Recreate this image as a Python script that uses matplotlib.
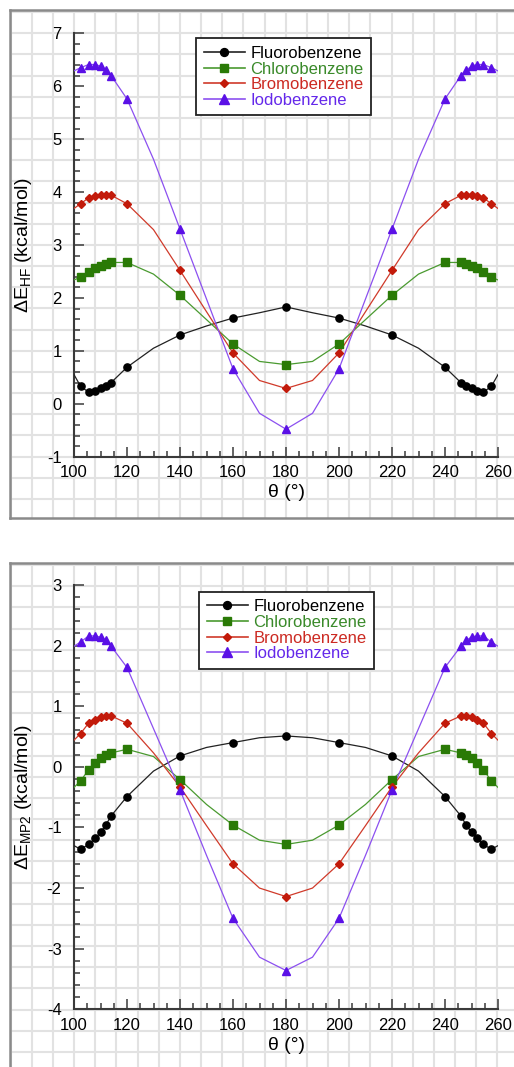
import numpy as np
import matplotlib
matplotlib.use('Agg')
import matplotlib.pyplot as plt

plt.rcParams['font.family'] = ['Liberation Sans', 'DejaVu Sans']
plt.rcParams['mathtext.fontset'] = 'custom'
plt.rcParams['mathtext.rm'] = 'Liberation Sans'
plt.rcParams['mathtext.it'] = 'Liberation Sans:italic'

W, H = 514, 1067

# angle grid of the polylines (every vertex), and the marked subset
theta = [100, 102.5, 105.5, 108, 110, 112, 114, 120, 130, 140, 150, 160, 170, 180,
         190, 200, 210, 220, 230, 240, 246, 248, 250, 252, 254.5, 257.5, 260]
marked = [102.5, 105.5, 108, 110, 112, 114, 120, 140, 160, 180,
          200, 220, 240, 246, 248, 250, 252, 254.5, 257.5]

names = ['Fluorobenzene', 'Chlorobenzene', 'Bromobenzene', 'Iodobenzene']

# HF energies (kcal/mol)
hf_f = [0.55, 0.33, 0.22, 0.25, 0.29, 0.34, 0.40, 0.69, 1.05, 1.30, 1.47, 1.62, 1.72, 1.83,
        1.72, 1.62, 1.47, 1.30, 1.05, 0.69, 0.40, 0.34, 0.29, 0.25, 0.22, 0.33, 0.55]
hf_cl = [2.34, 2.39, 2.49, 2.56, 2.61, 2.65, 2.67, 2.67, 2.45, 2.05, 1.59, 1.13, 0.80, 0.74,
         0.80, 1.13, 1.59, 2.05, 2.45, 2.67, 2.67, 2.65, 2.61, 2.56, 2.49, 2.39, 2.34]
hf_br = [3.69, 3.78, 3.89, 3.92, 3.94, 3.94, 3.94, 3.78, 3.29, 2.52, 1.74, 0.96, 0.44, 0.29,
         0.44, 0.96, 1.74, 2.52, 3.29, 3.78, 3.94, 3.94, 3.94, 3.92, 3.89, 3.78, 3.69]
hf_i = [6.29, 6.35, 6.41, 6.41, 6.38, 6.30, 6.20, 5.76, 4.62, 3.30, 1.98, 0.66, -0.18, -0.48,
        -0.18, 0.66, 1.98, 3.30, 4.62, 5.76, 6.20, 6.30, 6.38, 6.41, 6.41, 6.35, 6.29]

# MP2 energies (kcal/mol)
mp2_f = [-1.30, -1.36, -1.28, -1.18, -1.08, -0.96, -0.81, -0.49, -0.07, 0.18, 0.32, 0.40, 0.48, 0.51,
         0.48, 0.40, 0.32, 0.18, -0.07, -0.49, -0.81, -0.96, -1.08, -1.18, -1.28, -1.36, -1.30]
mp2_cl = [-0.34, -0.23, -0.05, 0.06, 0.14, 0.19, 0.23, 0.29, 0.17, -0.21, -0.62, -0.96, -1.21, -1.28,
          -1.21, -0.96, -0.62, -0.21, 0.17, 0.29, 0.23, 0.19, 0.14, 0.06, -0.05, -0.23, -0.34]
mp2_br = [0.44, 0.55, 0.72, 0.77, 0.82, 0.84, 0.84, 0.72, 0.23, -0.33, -0.97, -1.60, -2.00, -2.14,
          -2.00, -1.60, -0.97, -0.33, 0.23, 0.72, 0.84, 0.84, 0.82, 0.77, 0.72, 0.55, 0.44]
mp2_i = [1.99, 2.06, 2.16, 2.16, 2.14, 2.09, 1.99, 1.64, 0.63, -0.38, -1.46, -2.50, -3.14, -3.36,
         -3.14, -2.50, -1.46, -0.38, 0.63, 1.64, 1.99, 2.09, 2.14, 2.16, 2.16, 2.06, 1.99]

line_cols = ['#222222', '#4a9a30', '#d03a2a', '#8c50f0']
mark_cols = ['#000000', '#2a7a06', '#c21a0a', '#5a10e6']
text_cols = ['#000000', '#3a8a2a', '#cc2a22', '#6428ea']
mstyle = [('o', 5.2), ('s', 5.2), ('D', 4.0), ('^', 6.0)]

fig = plt.figure(figsize=(W / 100, H / 100), dpi=100)
fig.patch.set_facecolor('white')


def background(top, bottom):
    # graph-paper frame behind each panel (pixel coords)
    bg = fig.add_axes([10 / W, 1 - bottom / H, 620 / W, (bottom - top) / H], zorder=0)
    bg.set_xlim(10, 630)
    bg.set_ylim(bottom, top)
    bg.set_xticks(np.arange(10.5, 630, 21.17))
    bg.set_yticks(np.arange(top + 2.1, bottom, 21.17))
    bg.tick_params(length=0, labelbottom=False, labelleft=False)
    bg.grid(True, color='#e2e2e2', lw=1.5)
    for s in bg.spines.values():
        s.set_color('#8a8a8a')
        s.set_linewidth(1.8)
    bg.set_facecolor('white')


def panel(top_px, bottom_px, series, ylim, ylabel, leg_xy):
    ax = fig.add_axes([74 / W, 1 - bottom_px / H, 424 / W, (bottom_px - top_px) / H], zorder=2)
    ax.set_facecolor('none')
    th = np.array(theta)
    idx = np.isin(th, marked)
    for k, vals in enumerate(series):
        v = np.array(vals)
        ax.plot(th, v, '-', color=line_cols[k], lw=0.9, zorder=3)
        ax.plot(th[idx], v[idx], ls='none', marker=mstyle[k][0], ms=mstyle[k][1],
                color=mark_cols[k], zorder=4)
    # legend handles
    handles = [plt.Line2D([], [], color=line_cols[k], lw=1.2, marker=mstyle[k][0],
                          ms=mstyle[k][1] + 0.5, mfc=mark_cols[k], mec=mark_cols[k])
               for k in range(4)]
    leg = ax.legend(handles, names, loc='upper left', bbox_to_anchor=leg_xy, borderaxespad=0,
                    fontsize=12, frameon=True, fancybox=False, framealpha=1,
                    edgecolor='#222222', handlelength=2.5, handletextpad=0.3,
                    labelspacing=0.04, borderpad=0.45)
    leg.get_frame().set_linewidth(1.3)
    for t, c in zip(leg.get_texts(), text_cols):
        t.set_color(c)
    ax.set_xlim(100, 260)
    ax.set_ylim(*ylim)
    ax.set_xticks(np.arange(100, 261, 20))
    ax.set_xticks(np.arange(100, 261, 5), minor=True)
    ax.set_yticks(np.arange(ylim[0], ylim[1] + 1, 1))
    ax.set_yticks(np.arange(ylim[0], ylim[1] + 0.01, 0.2), minor=True)
    ax.set_yticklabels([str(int(t)) for t in np.arange(ylim[0], ylim[1] + 1, 1)])
    for s in ['top', 'right']:
        ax.spines[s].set_visible(False)
    for s in ['left', 'bottom']:
        ax.spines[s].set_color('#3a3a3a')
        ax.spines[s].set_linewidth(1.5)
    ax.tick_params(which='both', direction='in', color='#3a3a3a', width=1.1, labelsize=12)
    ax.tick_params(which='major', length=7)
    ax.tick_params(which='minor', length=4)
    ax.tick_params(axis='y', pad=9)
    ax.tick_params(axis='x', pad=6)
    ax.set_xlabel('θ (°)', fontsize=14, labelpad=3)
    ax.set_ylabel(ylabel, fontsize=14, labelpad=9)
    return ax


background(10, 518)
background(563, 1200)

panel(33.3, 456.7, [hf_f, hf_cl, hf_br, hf_i], (-1, 7),
      'ΔE$_{\\mathrm{HF}}$ (kcal/mol)', (0.288, 0.988))
panel(585, 1009.3, [mp2_f, mp2_cl, mp2_br, mp2_i], (-4, 3),
      'ΔE$_{\\mathrm{MP2}}$ (kcal/mol)', (0.295, 0.984))

fig.savefig('out.png', dpi=100, facecolor='white')
